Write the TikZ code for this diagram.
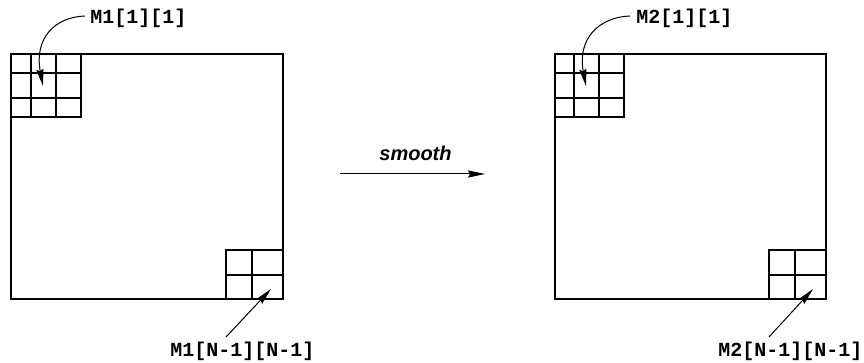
\documentclass[tikz,border=0pt]{standalone}
\usepackage{fontspec}
\setmonofont{Liberation Mono}
\setsansfont{Liberation Sans}
\usetikzlibrary{arrows.meta}
\tikzset{
  lbl/.style={font=\ttfamily\bfseries\fontsize{10pt}{12pt}\selectfont, inner sep=0pt, anchor=base west},
  op/.style={font=\sffamily\bfseries\itshape\fontsize{10pt}{12pt}\selectfont, inner sep=0pt, anchor=base west},
  ptr/.style={-{Stealth[length=8.5pt,width=3.6pt,inset=1pt]}, line width=0.5pt},
  frame/.style={line width=0.6pt},
  cell/.style={line width=0.6pt}
}
\begin{document}
\begin{tikzpicture}[x=0.5pt,y=-0.5pt]
\useasboundingbox (0,0) rectangle (864,363);
% left matrix
\draw[frame] (11,54) rectangle (283,299);
\draw[cell] (11,54) rectangle (81,117);
\draw[cell] (31,54) -- (31,117) (56,54) -- (56,117) (11,73) -- (81,73) (11,98) -- (81,98);
\draw[cell] (226,250) rectangle (283,299);
\draw[cell] (252,250) -- (252,299) (226,275) -- (283,275);
% right matrix
\draw[frame] (555,54) rectangle (826,299);
\draw[cell] (555,54) rectangle (624,117);
\draw[cell] (574,54) -- (574,117) (599,54) -- (599,117) (555,73) -- (624,73) (555,98) -- (624,98);
\draw[cell] (769,250) rectangle (826,299);
\draw[cell] (795,250) -- (795,299) (769,275) -- (826,275);
% labels
\node[lbl] (l1) at (90,24) {M1[1][1]};
\node[lbl] (l2) at (170,357) {M1[N-1][N-1]};
\node[lbl] (r1) at (636,24) {M2[1][1]};
\node[lbl] (r2) at (718,357) {M2[N-1][N-1]};
\node[op] (sm) at (379,161) {smooth};
% pointer ends
\coordinate (l1s) at (85,16);
\coordinate (l1t) at (43,86);
\coordinate (l2s) at (226,337);
\coordinate (l2t) at (271,289);
\coordinate (r1s) at (630,16);
\coordinate (r1t) at (586,86);
\coordinate (r2s) at (769,337);
\coordinate (r2t) at (813,289);
\coordinate (sa) at (340,174);
\coordinate (sb) at (485,174);
\draw[ptr] (l1s) .. controls (55,17) and (34,38) .. (l1t);
\draw[ptr] (r1s) .. controls (600,17) and (577,38) .. (r1t);
\draw[ptr] (l2s) -- (l2t);
\draw[ptr] (r2s) -- (r2t);
\draw[ptr] (sa) -- (sb);
\end{tikzpicture}
\end{document}
